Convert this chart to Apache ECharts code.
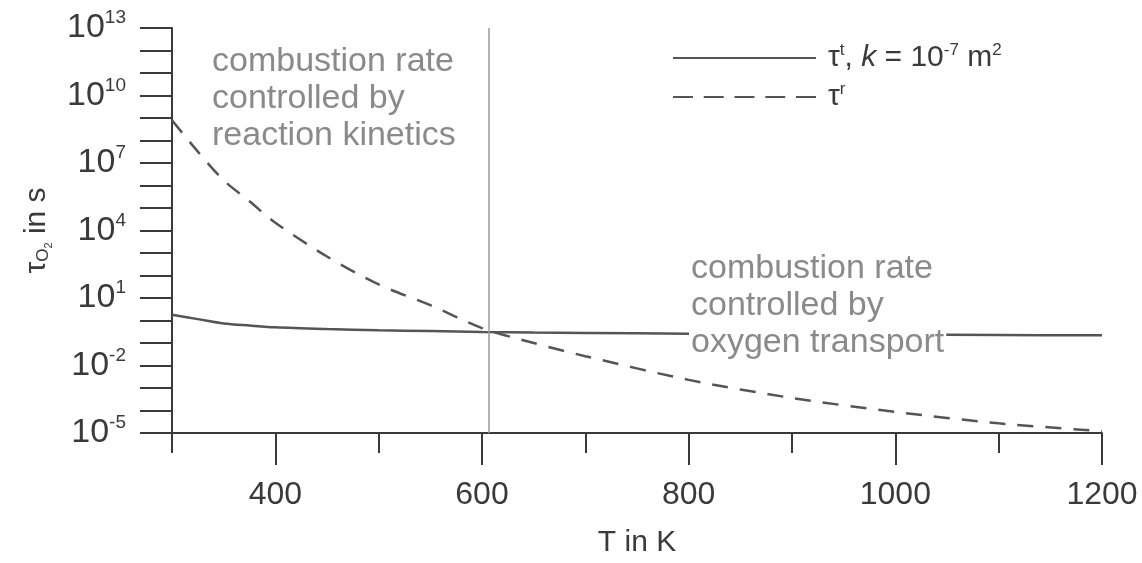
<!DOCTYPE html>
<html>
<head>
<meta charset="utf-8">
<script src="https://cdn.jsdelivr.net/npm/echarts@6/dist/echarts.min.js"></script>
<style>
  html, body { margin: 0; padding: 0; background: #fff; }
  #chart { width: 1142px; height: 563px; }
</style>
</head>
<body>
<div id="chart"></div>
<script>
// temperatures (K)
const temps = [300, 325, 350, 375, 400, 450, 500, 550, 600, 650, 700, 800, 900, 1000, 1100, 1200]
// transport time tau_t, k = 1e-7 m2 (s)
const tauT = [1.8, 1.15, 0.74, 0.6, 0.5, 0.42, 0.37, 0.34, 0.31, 0.29, 0.28, 0.26, 0.245, 0.235, 0.225, 0.22]
// reaction time tau_r (s)
const tauR = [8e8, 3.2e7, 1.7e6, 2e5, 2.2e4, 7e2, 40, 4.8, 0.46, 0.1, 0.026, 2.3e-3, 3.6e-4, 8.7e-5, 2.7e-5, 1.2e-5]
// regime boundary (K)
const boundaryT = 607

const xMajorTicks = [400, 600, 800, 1000, 1200]
const xMinorTicks = [300, 500, 700, 900, 1100]
const yTicks = [1e-5, 1e-4, 1e-3, 1e-2, 1e-1, 1, 1e1, 1e2, 1e3, 1e4, 1e5, 1e6, 1e7, 1e8, 1e9, 1e10, 1e11, 1e12, 1e13]
const yLabels = [1e-5, 1e-2, 1e1, 1e4, 1e7, 1e10, 1e13]

const font = 'Liberation Sans, Arial, sans-serif'
const ink = '#3a3a3a'
const lineInk = '#555'
const noteInk = '#8a8a8a'

const chart = echarts.init(document.getElementById('chart'))

const option = {
  animation: false,
  textStyle: { fontFamily: font },
  grid: {
    left: 172,
    right: 40,
    top: 28,
    bottom: 117
  },
  legend: {
    orient: 'vertical',
    left: 667,
    top: 35,
    itemWidth: 143,
    itemHeight: 14,
    itemGap: 3,
    itemStyle: { opacity: 0 },
    formatter: function (name) {
      if (name === 'tauT') return 'τ{s|t}, {i|k} = 10{s|-7} m{s|2}'
      return 'τ{s|r}'
    },
    textStyle: {
      color: ink,
      fontSize: 30,
      fontFamily: font,
      lineHeight: 36,
      padding: [0, 0, 0, 7],
      rich: {
        s: { fontSize: 17, padding: [0, 0, 16, 0], color: ink, fontFamily: font },
        i: { fontSize: 30, fontStyle: 'italic', color: ink, fontFamily: font }
      }
    },
    data: [
      { name: 'tauT' },
      { name: 'tauR', lineStyle: { type: [20, 10.75] } }
    ]
  },
  xAxis: [
    {
      type: 'value',
      position: 'bottom',
      min: 300,
      max: 1200,
      interval: 100,
      name: 'T in K',
      nameLocation: 'middle',
      nameGap: 95,
      nameTextStyle: { fontSize: 30, color: ink, fontFamily: font },
      splitLine: { show: false },
      axisLine: { show: true, lineStyle: { color: ink, width: 2 } },
      axisTick: { show: true, customValues: xMajorTicks, length: 32, lineStyle: { color: ink, width: 2 } },
      axisLabel: {
        customValues: xMajorTicks,
        fontSize: 32,
        color: ink,
        margin: 46,
        fontFamily: font,
        formatter: function (v) { return String(v) }
      }
    },
    {
      type: 'value',
      position: 'bottom',
      min: 300,
      max: 1200,
      interval: 100,
      splitLine: { show: false },
      axisLine: { show: false },
      axisTick: { show: true, customValues: xMinorTicks, length: 20, lineStyle: { color: ink, width: 2 } },
      axisLabel: { show: false }
    }
  ],
  yAxis: {
    type: 'log',
    min: 1e-5,
    max: 1e13,
    name: '{t|τ}{b|O}{c|2}{t| in s}',
    nameLocation: 'middle',
    nameRotate: 90,
    nameGap: 118,
    nameTextStyle: {
      fontSize: 30,
      color: ink,
      rich: {
        t: { fontSize: 30, color: ink, fontFamily: font },
        b: { fontSize: 17, color: ink, padding: [14, 0, 0, 0], fontFamily: font },
        c: { fontSize: 11, color: ink, padding: [24, 0, 0, 0], fontFamily: font }
      }
    },
    splitLine: { show: false },
    axisLine: { show: true, lineStyle: { color: ink, width: 2 } },
    axisTick: { show: true, customValues: yTicks, length: 32, lineStyle: { color: ink, width: 2 } },
    axisLabel: {
      customValues: yLabels,
      margin: 46,
      color: ink,
      fontSize: 34,
      fontFamily: font,
      formatter: function (v) {
        return '10{s|' + Math.round(Math.log10(v)) + '}'
      },
      rich: {
        s: { fontSize: 19, padding: [0, 0, 20, 0], color: ink, fontFamily: font }
      }
    }
  },
  series: [
    {
      name: 'tauT',
      type: 'line',
      xAxisIndex: 0,
      data: temps.map((t, i) => [t, tauT[i]]),
      showSymbol: false,
      symbol: 'none',
      smooth: 0.3,
      lineStyle: { color: lineInk, width: 2.5, type: 'solid' },
      itemStyle: { color: lineInk },
      markLine: {
        silent: true,
        symbol: 'none',
        label: { show: false },
        lineStyle: { color: '#9a9a9a', width: 1.5, type: 'solid' },
        data: [{ xAxis: boundaryT }]
      }
    },
    {
      name: 'tauR',
      type: 'line',
      xAxisIndex: 0,
      data: temps.map((t, i) => [t, tauR[i]]),
      showSymbol: false,
      symbol: 'none',
      smooth: 0.3,
      lineStyle: { color: lineInk, width: 2.5, type: [16, 12] },
      itemStyle: { color: lineInk }
    }
  ],
  graphic: [
    {
      type: 'text',
      left: 212,
      top: 43,
      z: 100,
      style: {
        text: 'combustion rate\ncontrolled by\nreaction kinetics',
        fill: noteInk,
        font: '34px ' + font,
        lineHeight: 37
      }
    },
    {
      type: 'text',
      left: 689,
      top: 250,
      z: 100,
      style: {
        text: 'combustion rate\ncontrolled by\noxygen transport',
        fill: noteInk,
        font: '34px ' + font,
        lineHeight: 37,
        backgroundColor: '#fff',
        padding: [0, 2]
      }
    }
  ]
}

chart.setOption(option)
</script>
</body>
</html>
